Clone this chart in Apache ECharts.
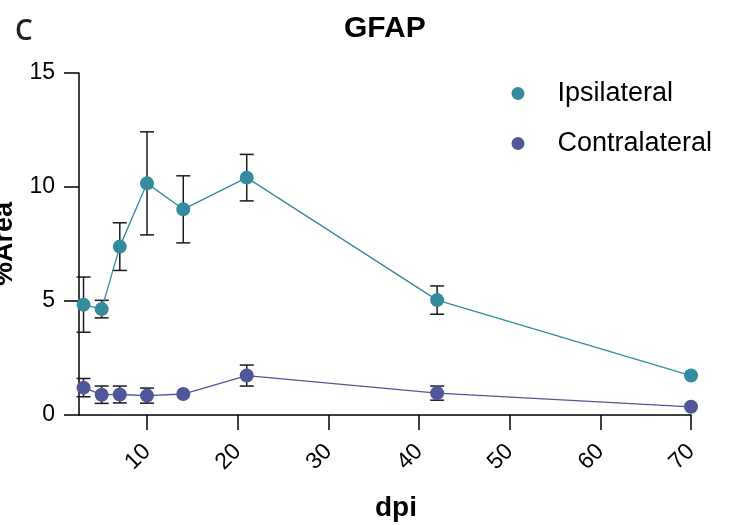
<!DOCTYPE html>
<html>
<head>
<meta charset="utf-8">
<script src="https://cdn.jsdelivr.net/npm/echarts@6/dist/echarts.min.js"></script>
<style>html,body{margin:0;padding:0;background:#fff;}#chart{width:734px;height:525px;}</style>
</head>
<body>
<div id="chart"></div>
<script>
var dpi = [3, 5, 7, 10, 14, 21, 42, 70];
var ipsiMean = [4.84, 4.645, 7.385, 10.16, 9.02, 10.41, 5.04, 1.73];
var ipsiErr = [1.21, 0.385, 1.045, 2.26, 1.47, 1.02, 0.62, 0];
var contraMean = [1.2, 0.89, 0.9, 0.85, 0.92, 1.73, 0.96, 0.36];
var contraErr = [0.4, 0.38, 0.37, 0.33, 0, 0.46, 0.31, 0];
var xTicks = [10, 20, 30, 40, 50, 60, 70];
var yTicks = [0, 5, 10, 15];

var teal = '#338b9d';
var purple = '#4f5699';
var font = 'Liberation Sans, Arial, Helvetica, sans-serif';

function pairs(xs, ys) { return xs.map(function (x, i) { return [x, ys[i]]; }); }
function errData(xs, m, e) {
  return xs.map(function (x, i) { return [x, m[i] - e[i], m[i] + e[i]]; }).filter(function (d, i) { return e[i] > 0; });
}
function renderErr(params, api) {
  var x = api.value(0);
  var lo = api.coord([x, api.value(1)]);
  var hi = api.coord([x, api.value(2)]);
  var w = 7;
  var st = { stroke: '#1a1a1a', lineWidth: 1.5 };
  return {
    type: 'group',
    children: [
      { type: 'line', shape: { x1: lo[0], y1: lo[1], x2: hi[0], y2: hi[1] }, style: st },
      { type: 'line', shape: { x1: lo[0] - w, y1: lo[1], x2: lo[0] + w, y2: lo[1] }, style: st },
      { type: 'line', shape: { x1: hi[0] - w, y1: hi[1], x2: hi[0] + w, y2: hi[1] }, style: st }
    ]
  };
}

var chart = echarts.init(document.getElementById('chart'), null, { renderer: 'canvas' });
chart.setOption({
  animation: false,
  backgroundColor: '#fff',
  title: [
    { text: 'GFAP', left: 344, top: 14, padding: 0,
      textStyle: { fontFamily: font, fontWeight: 'bold', fontSize: 30, color: '#000' } },
    { text: 'C', left: 15, top: 18, padding: 0,
      textStyle: { fontFamily: 'Open Sans, sans-serif', fontWeight: 600, fontSize: 28, color: '#222' } }
  ],
  legend: {
    orient: 'vertical', left: 511.5, top: 80, padding: 0,
    icon: 'circle', itemWidth: 13, itemHeight: 13, itemGap: 23,
    textStyle: { fontFamily: font, fontSize: 27, color: '#000', lineHeight: 27, padding: [0, 0, 0, 28] },
    data: ['Ipsilateral', 'Contralateral']
  },
  grid: { left: 79, right: 43, top: 73, bottom: 110, containLabel: false, outerBoundsMode: 'none' },
  xAxis: {
    type: 'value', min: 2.5, max: 70,
    name: 'dpi', nameLocation: 'middle', nameGap: 79,
    nameTextStyle: { fontFamily: font, fontWeight: 'bold', fontSize: 28, color: '#000', padding: [0, 0, 0, 22] },
    axisLine: { show: true, onZero: false, lineStyle: { color: '#000', width: 1.5 } },
    axisTick: { show: true, length: 15, customValues: xTicks, lineStyle: { color: '#000', width: 1.5 } },
    axisLabel: { customValues: xTicks, rotate: 45, margin: 33, fontFamily: font, fontSize: 23, color: '#000' },
    splitLine: { show: false }
  },
  yAxis: {
    type: 'value', min: 0, max: 15, interval: 5,
    name: '%Area', nameLocation: 'middle', nameGap: 59,
    nameTextStyle: { fontFamily: font, fontWeight: 'bold', fontSize: 27, color: '#000' },
    axisLine: { show: true, lineStyle: { color: '#000', width: 1.5 } },
    axisTick: { show: true, length: 15, customValues: yTicks, lineStyle: { color: '#000', width: 1.5 } },
    axisLabel: { customValues: yTicks, margin: 24, fontFamily: font, fontSize: 23, color: '#000' },
    splitLine: { show: false }
  },
  series: [
    { type: 'custom', name: 'ipsiErr', renderItem: renderErr, data: errData(dpi, ipsiMean, ipsiErr), z: 1, silent: true },
    { type: 'custom', name: 'contraErr', renderItem: renderErr, data: errData(dpi, contraMean, contraErr), z: 1, silent: true },
    { type: 'line', name: 'Ipsilateral', data: pairs(dpi, ipsiMean), symbol: 'circle', symbolSize: 14, z: 3,
      lineStyle: { color: teal, width: 1.3 }, itemStyle: { color: teal } },
    { type: 'line', name: 'Contralateral', data: pairs(dpi, contraMean), symbol: 'circle', symbolSize: 14, z: 3,
      lineStyle: { color: purple, width: 1.3 }, itemStyle: { color: purple } }
  ]
});
</script>
</body>
</html>
